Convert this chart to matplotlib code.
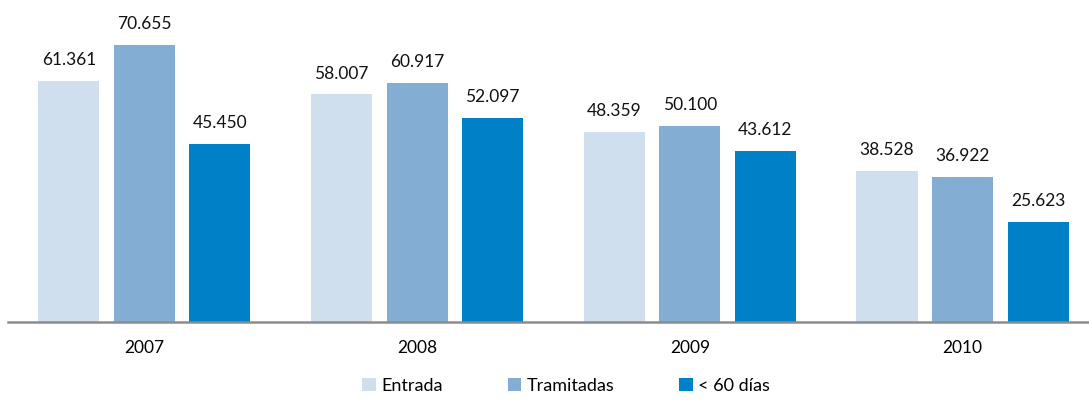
import numpy as np
import matplotlib.pyplot as plt
from matplotlib.patches import Patch

plt.rcParams['font.family'] = ['Lato', 'DejaVu Sans']

years = ['2007', '2008', '2009', '2010']
series = ['Entrada', 'Tramitadas', '< 60 días']
entrada = [61.361, 58.007, 48.359, 38.528]
tramitadas = [70.655, 60.917, 50.100, 36.922]
menos60 = [45.450, 52.097, 43.612, 25.623]
colors = ['#D0DFED', '#84ADD3', '#0080C6']

fig = plt.figure(figsize=(10.89, 4.0), dpi=100)
ax = fig.add_axes([8/1089, 78/400, 1080/1089, 322/400])

x = np.arange(len(years))
w = 0.224
step = 0.277
for i, vals in enumerate([entrada, tramitadas, menos60]):
    pos = x + (i - 1) * step
    ax.bar(pos, vals, width=w, color=colors[i], label=series[i])
    for p, v in zip(pos, vals):
        ax.text(p, v + 3.3, '{:.3f}'.format(v), ha='center', va='bottom',
                fontsize=12.5, color='#111111')

ax.set_xlim(-0.5, 3.46)
ax.set_ylim(0, 82.1)
ax.set_xticks(x)
ax.set_xticklabels(years, fontsize=12.5)
ax.tick_params(axis='x', length=0, pad=13)
ax.set_yticks([])
for s in ['top', 'right', 'left']:
    ax.spines[s].set_visible(False)
ax.spines['bottom'].set_color('#8c8c8c')
ax.spines['bottom'].set_linewidth(1.8)

handles = [Patch(facecolor=c) for c in colors]
fig.legend(handles, series, loc='center', bbox_to_anchor=(0.52, 0.035), ncol=3,
           frameon=False, fontsize=13, handlelength=0.75, handleheight=0.75,
           handletextpad=0.3, columnspacing=3.6)

fig.savefig('out.png', dpi=100)
